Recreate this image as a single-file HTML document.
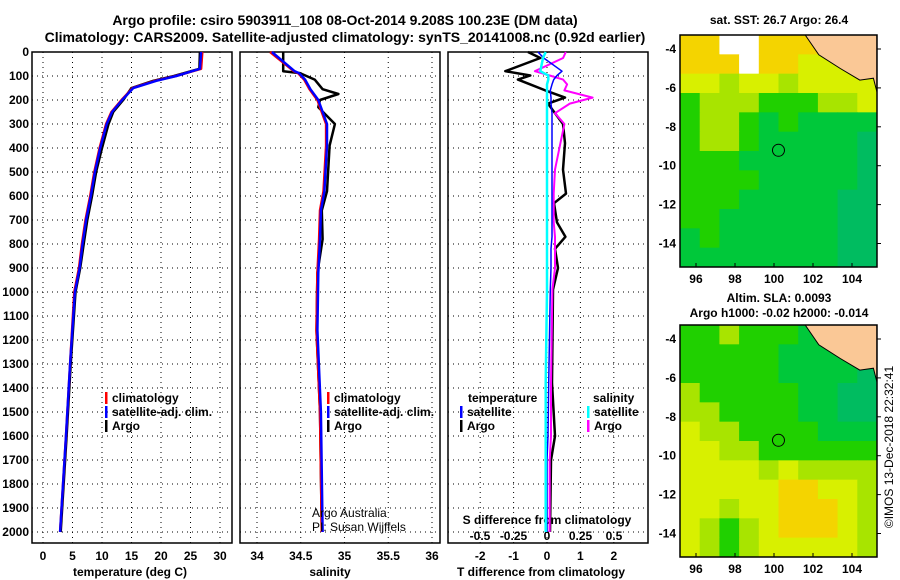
<!DOCTYPE html>
<html><head><meta charset="utf-8"><style>
html,body{margin:0;padding:0;background:#fff;}
svg{display:block;font-family:"Liberation Sans",sans-serif;font-weight:bold;}
</style></head><body>
<svg id="c" width="900" height="580" viewBox="0 0 900 580">
<text x="345" y="25" font-size="14" text-anchor="middle">Argo profile: csiro 5903911_108 08-Oct-2014 9.208S 100.23E (DM data)</text>
<text x="345" y="42" font-size="14" text-anchor="middle">Climatology: CARS2009. Satellite-adjusted climatology: synTS_20141008.nc (0.92d earlier)</text>
<g id="g"></g>
</svg>
<script>
// ---- data ----
const depthTicks=[0,100,200,300,400,500,600,700,800,900,1000,1100,1200,1300,1400,1500,1600,1700,1800,1900,2000];
const tempTicks=[0,5,10,15,20,25,30];
const salTicks=[34,34.5,35,35.5,36];
const tdiffTicks=[-2,-1,0,1,2];
const sdiffTicks=[-0.5,-0.25,0,0.25,0.5];
const tDepth=[0,70,100,120,150,200,250,300,400,500,600,700,800,900,1000,1300,1600,2000];
const tClim=[27.0,26.8,22.5,19.0,15.2,13.3,11.6,10.7,9.6,8.7,8.0,7.2,6.6,6.1,5.3,4.6,3.9,2.9];
const tSat=[26.8,26.6,22.6,19.2,15.3,13.4,11.7,10.8,9.7,8.8,8.1,7.3,6.7,6.2,5.4,4.6,3.9,2.9];
const tArgo=[26.6,26.5,22.2,18.7,15.0,13.6,11.9,11.1,10.0,9.0,8.3,7.5,6.9,6.3,5.5,4.7,4.0,3.0];
const sDepth=[0,80,88,115,155,175,200,230,300,390,580,660,780,920,1160,1500,2000];
const sArgo=[34.30,34.30,34.49,34.66,34.75,34.93,34.72,34.70,34.89,34.83,34.80,34.74,34.75,34.69,34.68,34.72,34.74];
const sClim=[34.15,34.42,34.47,34.54,34.60,34.64,34.69,34.72,34.79,34.79,34.76,34.72,34.71,34.69,34.68,34.72,34.74];
const sSat=[34.17,34.43,34.48,34.55,34.61,34.65,34.70,34.73,34.80,34.80,34.77,34.73,34.72,34.70,34.69,34.73,34.75];
const dDepth=[0,25,80,98,115,135,160,190,215,255,300,380,490,590,630,710,770,820,900,990,1380,1600,1700,2000];
const dTArgo=[-0.57,-0.2,-1.25,-0.5,-0.87,-0.5,-0.05,0.54,0.03,0.24,0.48,0.54,0.48,0.57,0.21,0.3,0.55,0.24,0.33,0.18,0.15,0.24,0.12,0.09];
const dTSat=[-0.27,-0.1,0.45,0.3,0.2,0.15,0.1,0.12,0.12,0.15,0.15,0.15,0.15,0.15,0.15,0.15,0.15,0.12,0.12,0.1,0.05,0.03,0.0,0.0];
const dSArgo=[0.14,0.12,-0.09,0.02,0.12,0.15,0.13,0.34,0.17,0.06,0.13,0.1,0.06,0.05,0.05,0.05,0.06,0.06,0.06,0.04,0.03,0.03,0.02,0.02];
const dSSat=[-0.01,-0.03,-0.05,0.01,0.01,0.0,0.0,0.0,0.0,0.0,0.0,0.0,0.0,0.0,0.0,0.0,0.0,0.0,0.0,0.0,-0.01,-0.01,-0.01,-0.01];
const lonTicks=[96,98,100,102,104];
const latTicks=[-4,-6,-8,-10,-12,-14];
const sstGrid=[
[1,1,0,0,1,1,1,1,2,2],[1,1,1,0,1,1,2,2,2,2],[2,2,3,2,2,3,2,2,2,2],[4,3,3,3,4,4,4,3,3,2],
[4,3,3,4,5,4,5,5,5,5],[4,3,3,4,5,5,5,5,5,6],[4,4,4,5,5,5,5,5,5,6],[4,4,4,4,5,5,5,5,5,6],
[4,4,4,5,5,5,5,5,6,6],[4,4,5,5,5,5,5,5,6,6],[5,4,5,5,5,5,5,5,6,6],[5,5,5,5,5,5,5,5,6,6]];
const slaGrid=[
[4,4,3,4,4,4,5,5,5,5],[4,4,4,4,4,5,5,5,5,5],[4,4,4,4,4,5,5,5,5,6],[3,4,4,4,4,4,5,5,6,6],
[3,3,4,4,4,4,5,5,6,6],[2,3,3,4,4,4,4,5,5,5],[2,2,3,3,4,4,4,4,4,4],[2,2,2,2,3,2,3,3,3,3],
[2,2,2,2,2,1,1,2,2,3],[2,2,3,2,2,1,1,1,2,3],[2,3,4,3,2,1,1,1,2,3],[2,3,4,3,2,2,2,2,2,3]];
const palette=["#ffffff","#f4d400","#d8f000","#a8e400","#20d000","#00c83a","#00bc60"];
const coast=[[101.6,-3.28],[102.3,-4.3],[103.4,-5.0],[104.4,-5.6],[105.1,-5.5],[105.28,-6.2],[105.28,-3.28]];

// ---- drawing ----
const NS="http://www.w3.org/2000/svg";const G=document.getElementById('g');
function el(t,a,p){const e=document.createElementNS(NS,t);for(const k in a)e.setAttribute(k,a[k]);(p||G).appendChild(e);return e;}
function txt(x,y,s,sz,anc,name){const t=el('text',{x:x,y:y,'font-size':sz,'text-anchor':anc||'middle'});t.textContent=s;


return t;}
const Y0=52,Y1=543;const yD=d=>Y0+d*0.24;
const panels=[{x0:32,x1:232,sx:v=>43+v*5.9},{x0:240,x1:440,sx:v=>257+(v-34)*87.5},{x0:448,x1:648,sx:v=>547+v*33.4}];
const sxS=v=>547+v*134;
function frame(p,ticks,name){
 for(const t of ticks){const x=p.sx(t);const l=el('line',{x1:x,x2:x,y1:Y0,y2:Y1,stroke:'#000','stroke-dasharray':'1,4','stroke-width':1});
 }
 for(const d of depthTicks){const y=yD(d);const l=el('line',{x1:p.x0,x2:p.x1,y1:y,y2:y,stroke:'#000','stroke-dasharray':'1,4','stroke-width':1});
 }
 const r=el('rect',{x:p.x0,y:Y0,width:p.x1-p.x0,height:Y1-Y0,fill:'none',stroke:'#000','stroke-width':1.5});
 
}
function line(depths,vals,sx,col,w,name){const pts=depths.map((d,i)=>sx(vals[i]).toFixed(1)+','+yD(d).toFixed(1)).join(' ');
 const l=el('polyline',{points:pts,fill:'none',stroke:col,'stroke-width':w,'stroke-linejoin':'round'});
 }
frame(panels[0],tempTicks,'temp-panel');frame(panels[1],salTicks,'sal-panel');frame(panels[2],tdiffTicks,'diff-panel');
for(const d of depthTicks){txt(29,yD(d)+4,String(d),12,'end','depth-tick-label');}
for(const t of tempTicks)txt(panels[0].sx(t),560,String(t),12,'middle','temp-tick-label');
for(const t of salTicks)txt(panels[1].sx(t),560,String(t),12,'middle','sal-tick-label');
for(const t of tdiffTicks)txt(panels[2].sx(t),560,String(t),12,'middle','tdiff-tick-label');
for(const t of sdiffTicks)txt(sxS(t),540,String(t),12,'middle','sdiff-tick-label');
txt(130,576,'temperature (deg C)',12,'middle','temp-axis-title');
txt(330,576,'salinity',12,'middle','sal-axis-title');
txt(541,576,'T difference from climatology',12,'middle','tdiff-axis-title');
txt(547,524,'S difference from climatology',12,'middle','sdiff-axis-title');
// series
line(tDepth,tArgo,panels[0].sx,'#000',2.5,'temp-argo-line');
line(tDepth,tClim,panels[0].sx,'#f00',2.5,'temp-clim-line');
line(tDepth,tSat,panels[0].sx,'#00f',2.5,'temp-sat-line');
line(sDepth,sArgo,panels[1].sx,'#000',2.5,'sal-argo-line');
line(sDepth,sClim,panels[1].sx,'#f00',2.5,'sal-clim-line');
line(sDepth,sSat,panels[1].sx,'#00f',2.5,'sal-sat-line');
line(dDepth,dTArgo,panels[2].sx,'#000',2.5,'tdiff-argo-line');
line(dDepth,dSArgo,sxS,'#f0f',2,'sdiff-argo-line');
line(dDepth,dTSat,panels[2].sx,'#00f',1.5,'tdiff-sat-line');
line(dDepth,dSSat,sxS,'#0ff',2.5,'sdiff-sat-line');
// legends
function leg(x,y,col,s,name){const r=el('rect',{x:x,y:y-10,width:2.5,height:12,fill:col});
 txt(x+7,y,s,12,'start',name);}
leg(105,402,'#f00','climatology','legend-temp-clim');leg(105,416,'#00f','satellite-adj. clim.','legend-temp-sat');leg(105,430,'#000','Argo','legend-temp-argo');
leg(327,402,'#f00','climatology','legend-sal-clim');leg(327,416,'#00f','satellite-adj. clim.','legend-sal-sat');leg(327,430,'#000','Argo','legend-sal-argo');
txt(468,402,'temperature',12,'start','legend-temperature-heading');
leg(460,416,'#00f','satellite','legend-tdiff-sat');leg(460,430,'#000','Argo','legend-tdiff-argo');
txt(593,402,'salinity',12,'start','legend-salinity-heading');
leg(587,416,'#0ff','satellite','legend-sdiff-sat');leg(587,430,'#f0f','Argo','legend-sdiff-argo');
const n1=txt(312,517,'Argo Australia',12,'start','credit-argo-australia');n1.setAttribute('font-weight','normal');
const n2=txt(312,531,'PI: Susan Wijffels',12,'start','credit-pi');n2.setAttribute('font-weight','normal');
// maps
const LON0=95.18,LON1=105.28,LAT0=-3.28,LAT1=-15.2;
function map(top,grid,name){
 const x0=680,x1=877,y1=top+232;
 const mx=l=>x0+(l-LON0)*19.5,my=l=>top+(LAT0-l)*19.45;
 const rows=grid.length,cols=grid[0].length;const cw=(x1-x0)/cols,ch=(y1-top)/rows;
 grid.forEach((row,i)=>row.forEach((v,j)=>{const r=el('rect',{x:x0+j*cw,y:top+i*ch,width:cw+0.5,height:ch+0.5,fill:palette[v]});
  }));
 const p=el('polygon',{points:coast.map(c=>mx(c[0]).toFixed(1)+','+my(c[1]).toFixed(1)).join(' '),fill:'#fac896',stroke:'#000','stroke-width':1});
 
 const ci=el('circle',{cx:mx(100.23),cy:my(-9.208),r:6,fill:'none',stroke:'#000','stroke-width':1});
 
 const fr=el('rect',{x:x0,y:top,width:x1-x0,height:y1-top,fill:'none',stroke:'#000','stroke-width':1.5});
 
 for(const l of lonTicks){txt(mx(l),y1+16,String(l),12,'middle',name+'-lon-label');
  const t=el('line',{x1:mx(l),x2:mx(l),y1:y1,y2:y1-4,stroke:'#000'});}
 for(const l of latTicks){txt(676,my(l)+4,String(l),12,'end',name+'-lat-label');
  const t=el('line',{x1:x1,x2:x1+4,y1:my(l),y2:my(l),stroke:'#000'});}
}
map(35,sstGrid,'sst-map');map(325,slaGrid,'sla-map');
txt(779,24,'sat. SST: 26.7 Argo: 26.4',12,'middle','sst-map-title');
txt(779,302,'Altim. SLA: 0.0093',12,'middle','sla-map-title-1');
txt(779,317,'Argo h1000: -0.02 h2000: -0.014',12,'middle','sla-map-title-2');
const cr=txt(0,0,'©IMOS 13-Dec-2018 22:32:41',12,'middle','imos-credit');cr.setAttribute('font-weight','normal');
cr.setAttribute('transform','translate(893,447) rotate(-90)');
</script>
</body></html>
